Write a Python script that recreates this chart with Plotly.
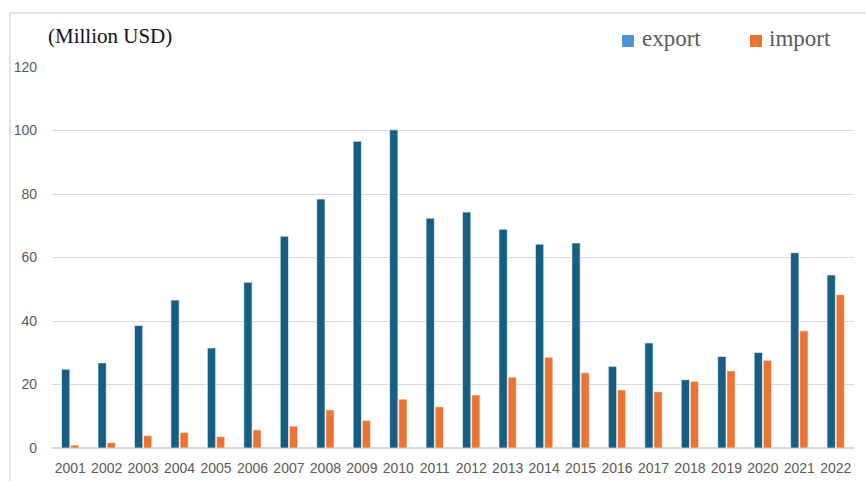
import plotly.graph_objects as go

years = [str(y) for y in range(2001, 2023)]
export_vals = [24.8, 26.8, 38.6, 46.6, 31.5, 52.2, 66.7, 78.4, 96.6, 100.2, 72.4,
               74.3, 68.9, 64.2, 64.6, 25.7, 33.1, 21.5, 28.8, 30.1, 61.5, 54.5]
import_vals = [0.9, 1.7, 3.9, 4.9, 3.6, 5.7, 6.9, 12.0, 8.7, 15.4, 13.0,
               16.7, 22.3, 28.6, 23.7, 18.3, 17.7, 21.0, 24.3, 27.6, 36.9, 48.3]
y_ticks = [0, 20, 40, 60, 80, 100, 120]

BAR_EXPORT = "#165e82"
BAR_IMPORT = "#ec7433"
KEY_EXPORT = "#4f95d6"
KEY_IMPORT = "#ec7433"
GRID = "#d9d9d9"
SERIF = "Liberation Serif, DejaVu Serif, serif"

W, H = 866, 481
L, R, T, B = 52, 12, 67, 33
pw, ph = W - L - R, H - T - B


def px_x(p):
    return (p - L) / pw


def px_y(p):
    return (H - B - p) / ph


fig = go.Figure()
fig.add_bar(x=years, y=export_vals, name="export", marker_color=BAR_EXPORT,
            marker_line=dict(color="white", width=0.6), showlegend=False)
fig.add_bar(x=years, y=import_vals, name="import", marker_color=BAR_IMPORT,
            marker_line=dict(color="white", width=0.6), showlegend=False)

fig.update_layout(
    width=W, height=H,
    margin=dict(l=L, r=R, t=T, b=B),
    paper_bgcolor="white", plot_bgcolor="white",
    barmode="group", bargap=0.5, bargroupgap=0.09,
    showlegend=False,
    xaxis=dict(showgrid=False, showline=False, ticks="", automargin=False,
               tickfont=dict(family="Liberation Sans", size=14, color="#595959"),
               ticklabelstandoff=10),
    yaxis=dict(range=[0, 120], tickvals=y_ticks, showgrid=True, gridcolor=GRID,
               gridwidth=1.2, zeroline=True, zerolinecolor=GRID, zerolinewidth=1.5,
               showline=False, ticks="", ticklabelstandoff=14, automargin=False,
               tickfont=dict(family="Liberation Sans", size=14, color="#595959")),
)

# outer frame (left and top edges)
fig.add_shape(type="line", xref="paper", yref="paper",
              x0=px_x(10), x1=px_x(866), y0=px_y(13), y1=px_y(13),
              line=dict(color=GRID, width=1.5))
fig.add_shape(type="line", xref="paper", yref="paper",
              x0=px_x(10), x1=px_x(10), y0=px_y(13), y1=px_y(481),
              line=dict(color=GRID, width=1.5))

# unit label
fig.add_annotation(text="(Million USD)", xref="paper", yref="paper",
                   x=px_x(46), y=px_y(36), xanchor="left", yanchor="middle",
                   showarrow=False,
                   font=dict(family=SERIF, size=21, color="#111111"))

# legend keys
for name, color, sx, tx in [("export", KEY_EXPORT, 622, 640),
                            ("import", KEY_IMPORT, 750, 767)]:
    fig.add_shape(type="rect", xref="paper", yref="paper",
                  x0=px_x(sx), x1=px_x(sx + 12), y0=px_y(47), y1=px_y(35),
                  fillcolor=color, line=dict(width=0))
    fig.add_annotation(text=name, xref="paper", yref="paper",
                       x=px_x(tx), y=px_y(38), xanchor="left", yanchor="middle",
                       showarrow=False,
                       font=dict(family=SERIF, size=23, color="#595959"))

fig.write_html("out.html")
